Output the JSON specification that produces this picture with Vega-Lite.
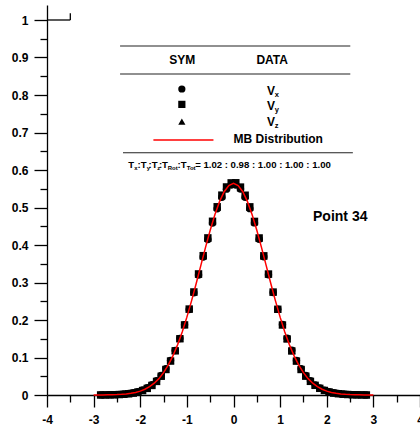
{
  "$schema": "https://vega.github.io/schema/vega-lite/v6.json",
  "width": 373,
  "height": 390,
  "autosize": {"type": "none"},
  "padding": {"left": 47, "top": 5, "right": 0, "bottom": 37},
  "background": "white",
  "config": {
    "view": {"stroke": null},
    "font": "Liberation Sans",
    "text": {"font": "Liberation Sans", "fontWeight": "bold", "color": "black"},
    "axis": {
      "domainColor": "black", "domainWidth": 1.3, "tickColor": "black", "tickWidth": 1.3,
      "labelFont": "Liberation Sans", "labelFontWeight": "bold", "labelFontSize": 12, "labelColor": "black",
      "grid": false, "title": null, "labelOverlap": false, "labelFlush": false, "labelBound": false
    }
  },
  "resolve": {"axis": {"x": "independent", "y": "independent"}},
  "datasets": {
    "pts": [
      {"v": -2.85, "Vx": 0.0003, "Vy": 0.0002, "Vz": 0.0002},
      {"v": -2.75, "Vx": 0.0004, "Vy": 0.0002, "Vz": 0.0003},
      {"v": -2.65, "Vx": 0.0006, "Vy": 0.0004, "Vz": 0.0005},
      {"v": -2.55, "Vx": 0.0010, "Vy": 0.0007, "Vz": 0.0008},
      {"v": -2.45, "Vx": 0.0016, "Vy": 0.0012, "Vz": 0.0014},
      {"v": -2.35, "Vx": 0.0026, "Vy": 0.0020, "Vz": 0.0023},
      {"v": -2.25, "Vx": 0.0040, "Vy": 0.0032, "Vz": 0.0036},
      {"v": -2.15, "Vx": 0.0060, "Vy": 0.0050, "Vz": 0.0056},
      {"v": -2.05, "Vx": 0.0090, "Vy": 0.0079, "Vz": 0.0083},
      {"v": -1.95, "Vx": 0.0133, "Vy": 0.0119, "Vz": 0.0127},
      {"v": -1.85, "Vx": 0.0193, "Vy": 0.0176, "Vz": 0.0183},
      {"v": -1.75, "Vx": 0.0274, "Vy": 0.0255, "Vz": 0.0266},
      {"v": -1.65, "Vx": 0.0381, "Vy": 0.0362, "Vz": 0.0370},
      {"v": -1.55, "Vx": 0.0521, "Vy": 0.0500, "Vz": 0.0512},
      {"v": -1.45, "Vx": 0.0699, "Vy": 0.0680, "Vz": 0.0687},
      {"v": -1.35, "Vx": 0.0920, "Vy": 0.0905, "Vz": 0.0914},
      {"v": -1.25, "Vx": 0.1188, "Vy": 0.1178, "Vz": 0.1181},
      {"v": -1.15, "Vx": 0.1505, "Vy": 0.1500, "Vz": 0.1508},
      {"v": -1.05, "Vx": 0.1876, "Vy": 0.1869, "Vz": 0.1870},
      {"v": -0.95, "Vx": 0.2282, "Vy": 0.2292, "Vz": 0.2285},
      {"v": -0.85, "Vx": 0.2728, "Vy": 0.2748, "Vz": 0.2742},
      {"v": -0.75, "Vx": 0.3200, "Vy": 0.3229, "Vz": 0.3212},
      {"v": -0.65, "Vx": 0.3681, "Vy": 0.3716, "Vz": 0.3700},
      {"v": -0.55, "Vx": 0.4148, "Vy": 0.4190, "Vz": 0.4166},
      {"v": -0.45, "Vx": 0.4585, "Vy": 0.4633, "Vz": 0.4610},
      {"v": -0.35, "Vx": 0.4967, "Vy": 0.5020, "Vz": 0.4995},
      {"v": -0.25, "Vx": 0.5273, "Vy": 0.5330, "Vz": 0.5298},
      {"v": -0.15, "Vx": 0.5490, "Vy": 0.5548, "Vz": 0.5520},
      {"v": -0.05, "Vx": 0.5601, "Vy": 0.5657, "Vz": 0.5626},
      {"v": 0.05, "Vx": 0.5600, "Vy": 0.5660, "Vz": 0.5630},
      {"v": 0.15, "Vx": 0.5492, "Vy": 0.5545, "Vz": 0.5515},
      {"v": 0.25, "Vx": 0.5275, "Vy": 0.5328, "Vz": 0.5302},
      {"v": 0.35, "Vx": 0.4970, "Vy": 0.5018, "Vz": 0.4990},
      {"v": 0.45, "Vx": 0.4590, "Vy": 0.4630, "Vz": 0.4606},
      {"v": 0.55, "Vx": 0.4152, "Vy": 0.4188, "Vz": 0.4170},
      {"v": 0.65, "Vx": 0.3685, "Vy": 0.3712, "Vz": 0.3696},
      {"v": 0.75, "Vx": 0.3205, "Vy": 0.3226, "Vz": 0.3216},
      {"v": 0.85, "Vx": 0.2734, "Vy": 0.2745, "Vz": 0.2738},
      {"v": 0.95, "Vx": 0.2290, "Vy": 0.2286, "Vz": 0.2289},
      {"v": 1.05, "Vx": 0.1880, "Vy": 0.1866, "Vz": 0.1874},
      {"v": 1.15, "Vx": 0.1512, "Vy": 0.1494, "Vz": 0.1504},
      {"v": 1.25, "Vx": 0.1192, "Vy": 0.1174, "Vz": 0.1184},
      {"v": 1.35, "Vx": 0.0922, "Vy": 0.0903, "Vz": 0.0912},
      {"v": 1.45, "Vx": 0.0699, "Vy": 0.0680, "Vz": 0.0690},
      {"v": 1.55, "Vx": 0.0519, "Vy": 0.0502, "Vz": 0.0511},
      {"v": 1.65, "Vx": 0.0379, "Vy": 0.0364, "Vz": 0.0371},
      {"v": 1.75, "Vx": 0.0271, "Vy": 0.0258, "Vz": 0.0265},
      {"v": 1.85, "Vx": 0.0190, "Vy": 0.0178, "Vz": 0.0184},
      {"v": 1.95, "Vx": 0.0131, "Vy": 0.0121, "Vz": 0.0126},
      {"v": 2.05, "Vx": 0.0088, "Vy": 0.0080, "Vz": 0.0084},
      {"v": 2.15, "Vx": 0.0058, "Vy": 0.0052, "Vz": 0.0055},
      {"v": 2.25, "Vx": 0.0039, "Vy": 0.0034, "Vz": 0.0036},
      {"v": 2.35, "Vx": 0.0025, "Vy": 0.0021, "Vz": 0.0023},
      {"v": 2.45, "Vx": 0.0016, "Vy": 0.0013, "Vz": 0.0014},
      {"v": 2.55, "Vx": 0.0010, "Vy": 0.0007, "Vz": 0.0008},
      {"v": 2.65, "Vx": 0.0006, "Vy": 0.0004, "Vz": 0.0005},
      {"v": 2.75, "Vx": 0.0004, "Vy": 0.0002, "Vz": 0.0003},
      {"v": 2.85, "Vx": 0.0002, "Vy": 0.0001, "Vz": 0.0002}
    ],
    "mb": [
      {"v": -3.0, "f": 0.0001}, {"v": -2.9, "f": 0.0001}, {"v": -2.8, "f": 0.0002}, {"v": -2.7, "f": 0.0004},
      {"v": -2.6, "f": 0.0007}, {"v": -2.5, "f": 0.0011}, {"v": -2.4, "f": 0.0018}, {"v": -2.3, "f": 0.0028},
      {"v": -2.2, "f": 0.0045}, {"v": -2.1, "f": 0.0069}, {"v": -2.0, "f": 0.0103}, {"v": -1.9, "f": 0.0153},
      {"v": -1.8, "f": 0.0221}, {"v": -1.7, "f": 0.0314}, {"v": -1.6, "f": 0.0436}, {"v": -1.5, "f": 0.0595},
      {"v": -1.4, "f": 0.0795}, {"v": -1.3, "f": 0.1041}, {"v": -1.2, "f": 0.1337}, {"v": -1.1, "f": 0.1682},
      {"v": -1.0, "f": 0.2076}, {"v": -0.9, "f": 0.2510}, {"v": -0.8, "f": 0.2975}, {"v": -0.7, "f": 0.3457},
      {"v": -0.6, "f": 0.3936}, {"v": -0.5, "f": 0.4394}, {"v": -0.4, "f": 0.4808}, {"v": -0.3, "f": 0.5156},
      {"v": -0.2, "f": 0.5421}, {"v": -0.1, "f": 0.5586}, {"v": 0.0, "f": 0.5642}, {"v": 0.1, "f": 0.5586},
      {"v": 0.2, "f": 0.5421}, {"v": 0.3, "f": 0.5156}, {"v": 0.4, "f": 0.4808}, {"v": 0.5, "f": 0.4394},
      {"v": 0.6, "f": 0.3936}, {"v": 0.7, "f": 0.3457}, {"v": 0.8, "f": 0.2975}, {"v": 0.9, "f": 0.2510},
      {"v": 1.0, "f": 0.2076}, {"v": 1.1, "f": 0.1682}, {"v": 1.2, "f": 0.1337}, {"v": 1.3, "f": 0.1041},
      {"v": 1.4, "f": 0.0795}, {"v": 1.5, "f": 0.0595}, {"v": 1.6, "f": 0.0436}, {"v": 1.7, "f": 0.0314},
      {"v": 1.8, "f": 0.0221}, {"v": 1.9, "f": 0.0153}, {"v": 2.0, "f": 0.0103}, {"v": 2.1, "f": 0.0069},
      {"v": 2.2, "f": 0.0045}, {"v": 2.3, "f": 0.0028}, {"v": 2.4, "f": 0.0018}, {"v": 2.5, "f": 0.0011},
      {"v": 2.6, "f": 0.0007}, {"v": 2.7, "f": 0.0004}, {"v": 2.8, "f": 0.0002}, {"v": 2.9, "f": 0.0001},
      {"v": 3.0, "f": 0.0001}
    ],
    "one": [{}]
  },
  "layer": [
    {
      "data": {"name": "pts"},
      "transform": [{"fold": ["Vx", "Vy", "Vz"], "as": ["comp", "f"]}],
      "mark": {"type": "point", "filled": true, "opacity": 1, "color": "black", "size": 55},
      "encoding": {
        "x": {
          "field": "v", "type": "quantitative",
          "scale": {"domain": [-4, 4], "nice": false, "zero": false},
          "axis": {
            "orient": "bottom",
            "values": [-4, -3, -2, -1, 0, 1, 2, 3, 4],
            "labelExpr": "'' + datum.value",
            "tickSize": 12,
            "labelPadding": 7
          }
        },
        "y": {
          "field": "f", "type": "quantitative",
          "scale": {"domain": [0, 1.04], "nice": false, "zero": false},
          "axis": {
            "orient": "left",
            "values": [0, 0.1, 0.2, 0.3, 0.4, 0.5, 0.6, 0.7, 0.8, 0.9, 1],
            "labelExpr": "'' + round(datum.value * 10) / 10",
            "tickSize": 13,
            "labelPadding": 6
          }
        },
        "shape": {
          "field": "comp", "type": "nominal",
          "scale": {"domain": ["Vx", "Vy", "Vz"], "range": ["circle", "square", "triangle-up"]},
          "legend": null
        }
      }
    },
    {
      "data": {"name": "mb"},
      "mark": {"type": "line", "color": "#ff0000", "strokeWidth": 1.5},
      "encoding": {
        "x": {"field": "v", "type": "quantitative", "axis": {"orient": "bottom", "values": [-3.5, -2.5, -1.5, -0.5, 0.5, 1.5, 2.5, 3.5], "labels": false, "domain": false, "tickSize": 7}},
        "y": {"field": "f", "type": "quantitative", "axis": {"orient": "left", "values": [0.05, 0.15, 0.25, 0.35, 0.45, 0.55, 0.65, 0.75, 0.85, 0.95], "labels": false, "domain": false, "tickSize": 7}}
      }
    },
    {
      "data": {"name": "one"},
      "mark": {"type": "rule", "color": "black", "strokeWidth": 1.3},
      "encoding": {"x": {"datum": -4, "type": "quantitative", "axis": null}, "x2": {"datum": -3.5}, "y": {"datum": 1, "type": "quantitative", "axis": null}}
    },
    {
      "data": {"name": "one"},
      "mark": {"type": "rule", "color": "black", "strokeWidth": 1.3},
      "encoding": {"x": {"datum": -3.5, "type": "quantitative", "axis": null}, "y": {"datum": 1, "type": "quantitative", "axis": null}, "y2": {"datum": 1.018}}
    },
    {
      "data": {"name": "one"},
      "mark": {"type": "rule", "color": "#222222", "strokeWidth": 1.2},
      "encoding": {"x": {"datum": -2.433, "type": "quantitative", "axis": null}, "x2": {"datum": 2.505}, "y": {"datum": 0.9307, "type": "quantitative", "axis": null}}
    },
    {
      "data": {"name": "one"},
      "mark": {"type": "rule", "color": "#222222", "strokeWidth": 1.2},
      "encoding": {"x": {"datum": -2.433, "type": "quantitative", "axis": null}, "x2": {"datum": 2.505}, "y": {"datum": 0.856, "type": "quantitative", "axis": null}}
    },
    {
      "data": {"name": "one"},
      "mark": {"type": "rule", "color": "#222222", "strokeWidth": 1.2},
      "encoding": {"x": {"datum": -2.37, "type": "quantitative", "axis": null}, "x2": {"datum": 2.56}, "y": {"datum": 0.646, "type": "quantitative", "axis": null}}
    },
    {
      "data": {"name": "one"},
      "mark": {"type": "text", "text": "SYM", "fontSize": 12, "align": "center", "baseline": "middle"},
      "encoding": {"x": {"datum": -1.10, "type": "quantitative", "axis": null}, "y": {"datum": 0.893, "type": "quantitative", "axis": null}}
    },
    {
      "data": {"name": "one"},
      "mark": {"type": "text", "text": "DATA", "fontSize": 12, "align": "center", "baseline": "middle"},
      "encoding": {"x": {"datum": 0.83, "type": "quantitative", "axis": null}, "y": {"datum": 0.893, "type": "quantitative", "axis": null}}
    },
    {
      "data": {"name": "one"},
      "mark": {"type": "point", "shape": "circle", "filled": true, "opacity": 1, "color": "black", "size": 52},
      "encoding": {"x": {"datum": -1.108, "type": "quantitative", "axis": null}, "y": {"datum": 0.816, "type": "quantitative", "axis": null}}
    },
    {
      "data": {"name": "one"},
      "mark": {"type": "point", "shape": "square", "filled": true, "opacity": 1, "color": "black", "size": 52},
      "encoding": {"x": {"datum": -1.108, "type": "quantitative", "axis": null}, "y": {"datum": 0.775, "type": "quantitative", "axis": null}}
    },
    {
      "data": {"name": "one"},
      "mark": {"type": "point", "shape": "triangle-up", "filled": true, "opacity": 1, "color": "black", "size": 52},
      "encoding": {"x": {"datum": -1.108, "type": "quantitative", "axis": null}, "y": {"datum": 0.729, "type": "quantitative", "axis": null}}
    },
    {
      "data": {"name": "one"},
      "mark": {"type": "rule", "color": "#ff0000", "strokeWidth": 1.5},
      "encoding": {"x": {"datum": -1.718, "type": "quantitative", "axis": null}, "x2": {"datum": -0.43}, "y": {"datum": 0.68, "type": "quantitative", "axis": null}}
    },
    {
      "data": {"name": "one"},
      "mark": {"type": "text", "text": "V", "fontSize": 12, "align": "left", "baseline": "middle"},
      "encoding": {"x": {"datum": 0.716, "type": "quantitative", "axis": null}, "y": {"datum": 0.811, "type": "quantitative", "axis": null}}
    },
    {
      "data": {"name": "one"},
      "mark": {"type": "text", "text": "x", "fontSize": 7.5, "align": "left", "baseline": "middle", "dy": 4},
      "encoding": {"x": {"datum": 0.884, "type": "quantitative", "axis": null}, "y": {"datum": 0.811, "type": "quantitative", "axis": null}}
    },
    {
      "data": {"name": "one"},
      "mark": {"type": "text", "text": "V", "fontSize": 12, "align": "left", "baseline": "middle"},
      "encoding": {"x": {"datum": 0.716, "type": "quantitative", "axis": null}, "y": {"datum": 0.771, "type": "quantitative", "axis": null}}
    },
    {
      "data": {"name": "one"},
      "mark": {"type": "text", "text": "y", "fontSize": 7.5, "align": "left", "baseline": "middle", "dy": 4},
      "encoding": {"x": {"datum": 0.884, "type": "quantitative", "axis": null}, "y": {"datum": 0.771, "type": "quantitative", "axis": null}}
    },
    {
      "data": {"name": "one"},
      "mark": {"type": "text", "text": "V", "fontSize": 12, "align": "left", "baseline": "middle"},
      "encoding": {"x": {"datum": 0.716, "type": "quantitative", "axis": null}, "y": {"datum": 0.729, "type": "quantitative", "axis": null}}
    },
    {
      "data": {"name": "one"},
      "mark": {"type": "text", "text": "z", "fontSize": 7.5, "align": "left", "baseline": "middle", "dy": 4},
      "encoding": {"x": {"datum": 0.884, "type": "quantitative", "axis": null}, "y": {"datum": 0.729, "type": "quantitative", "axis": null}}
    },
    {
      "data": {"name": "one"},
      "mark": {"type": "text", "text": "MB Distribution", "fontSize": 12, "align": "center", "baseline": "middle"},
      "encoding": {"x": {"datum": 0.96, "type": "quantitative", "axis": null}, "y": {"datum": 0.684, "type": "quantitative", "axis": null}}
    },
    {
      "data": {"name": "one"},
      "mark": {"type": "text", "text": "T", "fontSize": 9.6, "align": "left", "baseline": "middle"},
      "encoding": {"x": {"datum": -2.255, "type": "quantitative", "axis": null}, "y": {"datum": 0.6133, "type": "quantitative", "axis": null}}
    },
    {
      "data": {"name": "one"},
      "mark": {"type": "text", "text": ":T", "fontSize": 9.6, "align": "left", "baseline": "middle"},
      "encoding": {"x": {"datum": -2.059, "type": "quantitative", "axis": null}, "y": {"datum": 0.6133, "type": "quantitative", "axis": null}}
    },
    {
      "data": {"name": "one"},
      "mark": {"type": "text", "text": ":T", "fontSize": 9.6, "align": "left", "baseline": "middle"},
      "encoding": {"x": {"datum": -1.823, "type": "quantitative", "axis": null}, "y": {"datum": 0.6133, "type": "quantitative", "axis": null}}
    },
    {
      "data": {"name": "one"},
      "mark": {"type": "text", "text": ":T", "fontSize": 9.6, "align": "left", "baseline": "middle"},
      "encoding": {"x": {"datum": -1.6, "type": "quantitative", "axis": null}, "y": {"datum": 0.6133, "type": "quantitative", "axis": null}}
    },
    {
      "data": {"name": "one"},
      "mark": {"type": "text", "text": ":T", "fontSize": 9.6, "align": "left", "baseline": "middle"},
      "encoding": {"x": {"datum": -1.201, "type": "quantitative", "axis": null}, "y": {"datum": 0.6133, "type": "quantitative", "axis": null}}
    },
    {
      "data": {"name": "one"},
      "mark": {"type": "text", "text": "= 1.02 : 0.98 : 1.00 : 1.00 : 1.00", "fontSize": 9.6, "align": "left", "baseline": "middle"},
      "encoding": {"x": {"datum": -0.823, "type": "quantitative", "axis": null}, "y": {"datum": 0.6133, "type": "quantitative", "axis": null}}
    },
    {
      "data": {"name": "one"},
      "mark": {"type": "text", "text": "x", "fontSize": 6, "align": "left", "baseline": "middle", "dy": 3},
      "encoding": {"x": {"datum": -2.128, "type": "quantitative", "axis": null}, "y": {"datum": 0.6133, "type": "quantitative", "axis": null}}
    },
    {
      "data": {"name": "one"},
      "mark": {"type": "text", "text": "y", "fontSize": 6, "align": "left", "baseline": "middle", "dy": 3},
      "encoding": {"x": {"datum": -1.862, "type": "quantitative", "axis": null}, "y": {"datum": 0.6133, "type": "quantitative", "axis": null}}
    },
    {
      "data": {"name": "one"},
      "mark": {"type": "text", "text": "z", "fontSize": 6, "align": "left", "baseline": "middle", "dy": 3},
      "encoding": {"x": {"datum": -1.635, "type": "quantitative", "axis": null}, "y": {"datum": 0.6133, "type": "quantitative", "axis": null}}
    },
    {
      "data": {"name": "one"},
      "mark": {"type": "text", "text": "Rot", "fontSize": 6, "align": "left", "baseline": "middle", "dy": 3},
      "encoding": {"x": {"datum": -1.411, "type": "quantitative", "axis": null}, "y": {"datum": 0.6133, "type": "quantitative", "axis": null}}
    },
    {
      "data": {"name": "one"},
      "mark": {"type": "text", "text": "Tot", "fontSize": 6, "align": "left", "baseline": "middle", "dy": 3},
      "encoding": {"x": {"datum": -1.003, "type": "quantitative", "axis": null}, "y": {"datum": 0.6133, "type": "quantitative", "axis": null}}
    },
    {
      "data": {"name": "one"},
      "mark": {"type": "text", "text": "Point 34", "fontSize": 14, "align": "center", "baseline": "middle"},
      "encoding": {"x": {"datum": 2.29, "type": "quantitative", "axis": null}, "y": {"datum": 0.4747, "type": "quantitative", "axis": null}}
    }
  ]
}
